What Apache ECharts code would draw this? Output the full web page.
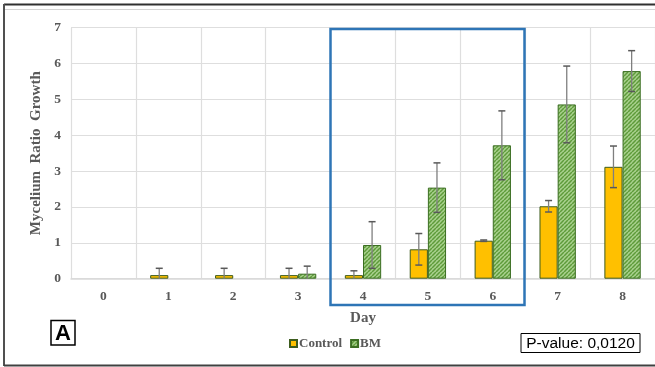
<!DOCTYPE html>
<html>
<head>
<meta charset="utf-8">
<script src="https://cdn.jsdelivr.net/npm/echarts@6/dist/echarts.min.js"></script>
<style>
  html, body { margin: 0; padding: 0; background: #ffffff; }
  #chart { width: 655px; height: 367px; }
</style>
</head>
<body>
<div id="chart"></div>
<script>
// Mycelium growth ratio per day, control vs. BM treatment (mean and error)
const days = ['0', '1', '2', '3', '4', '5', '6', '7', '8'];
const controlValues = [0, 0.1, 0.1, 0.1, 0.1, 0.82, 1.06, 2.02, 3.12];
const bmValues = [0, 0, 0, 0.14, 0.94, 2.54, 3.72, 4.86, 5.79];
const controlErr = [0, 0.19, 0.19, 0.19, 0.12, 0.44, 0.02, 0.16, 0.58];
const bmErr = [0, 0, 0, 0.21, 0.65, 0.69, 0.96, 1.07, 0.57];
const yTicks = { min: 0, max: 7, step: 1 };

const serif = '"Liberation Serif", "Times New Roman", serif';
const labelGray = '#595959';

// Diagonal "/" hatch used for the BM bars
function hatchPattern() {
  const s = 4;
  const c = document.createElement('canvas');
  c.width = s; c.height = s;
  const ctx = c.getContext('2d');
  ctx.fillStyle = '#a9d18e';
  ctx.fillRect(0, 0, s, s);
  ctx.strokeStyle = '#5e9b3a';
  ctx.lineWidth = 1.5;
  for (let k = -1; k <= 1; k++) {
    ctx.beginPath();
    ctx.moveTo(k * s, s);
    ctx.lineTo(k * s + s, 0);
    ctx.stroke();
  }
  return { image: c, repeat: 'repeat' };
}

const BAR_FRACTION = 0.28;

// A zero mean has no visible bar
const asBars = values => values.map(v => (v === 0 ? '-' : v));

// Error bar drawer: side = -1 for the left bar in a pair, +1 for the right one
function errorBars(values, errs, side) {
  const data = values.map((v, i) => [i, Math.max(0, v - errs[i]), v + errs[i], errs[i]]);
  return {
    type: 'custom',
    z: 10,
    silent: true,
    data: data,
    encode: { x: 0, y: [1, 2] },
    renderItem: function (params, api) {
      if (api.value(3) <= 0) return null;
      const band = api.size([1, 0])[0];
      const off = side * band * BAR_FRACTION / 2;
      const lo = api.coord([api.value(0), api.value(1)]);
      const hi = api.coord([api.value(0), api.value(2)]);
      const x = lo[0] + off;
      const cap = 3.5;
      const lineStyle = { stroke: '#7f7f7f', lineWidth: 1.3 };
      const capStyle = { stroke: '#595959', lineWidth: 1.5 };
      const children = [
        { type: 'line', shape: { x1: x, y1: hi[1], x2: x, y2: lo[1] }, style: lineStyle },
        { type: 'line', shape: { x1: x - cap, y1: hi[1], x2: x + cap, y2: hi[1] }, style: capStyle }
      ];
      if (api.value(1) > 0) {
        children.push({ type: 'line', shape: { x1: x - cap, y1: lo[1], x2: x + cap, y2: lo[1] }, style: capStyle });
      }
      return { type: 'group', children: children };
    }
  };
}

const chart = echarts.init(document.getElementById('chart'), null, { renderer: 'canvas' });

const option = {
  animation: false,
  backgroundColor: '#ffffff',
  grid: { left: 71, top: 27.7, width: 585, height: 251 },
  legend: {
    left: 284, top: 332,
    itemWidth: 7, itemHeight: 7, itemGap: 8,
    icon: 'rect',
    data: ['Control', 'BM'],
    textStyle: { fontFamily: serif, fontWeight: 'bold', fontSize: 13, color: labelGray, padding: [0, 0, 0, -3] }
  },
  xAxis: {
    type: 'category',
    data: days,
    name: 'Day',
    nameLocation: 'middle',
    nameGap: 32,
    nameTextStyle: { fontFamily: serif, fontWeight: 'bold', fontSize: 15, color: labelGray },
    axisLine: { lineStyle: { color: '#d9d9d9', width: 1.5 } },
    axisTick: { show: false },
    axisLabel: { fontFamily: serif, fontWeight: 'bold', fontSize: 13.5, color: labelGray, margin: 11 },
    splitLine: { show: true, interval: 0, lineStyle: { color: '#dedede', width: 1.2 } }
  },
  yAxis: {
    type: 'value',
    min: yTicks.min, max: yTicks.max, interval: yTicks.step,
    name: 'Mycelium  Ratio  Growth',
    nameLocation: 'middle',
    nameGap: 25,
    nameTextStyle: { fontFamily: serif, fontWeight: 'bold', fontSize: 15, color: labelGray },
    axisLine: { show: false },
    axisTick: { show: false },
    axisLabel: { fontFamily: serif, fontWeight: 'bold', fontSize: 13.5, color: labelGray, margin: 10 },
    splitLine: { lineStyle: { color: '#dedede', width: 1.2 } }
  },
  series: [
    {
      name: 'Control',
      type: 'bar',
      data: asBars(controlValues),
      barWidth: (BAR_FRACTION * 100) + '%',
      barGap: '0%',
      itemStyle: { color: '#ffc000', borderColor: '#3d5c1e', borderWidth: 1 }
    },
    {
      name: 'BM',
      type: 'bar',
      data: asBars(bmValues),
      barWidth: (BAR_FRACTION * 100) + '%',
      barGap: '0%',
      itemStyle: { color: hatchPattern(), borderColor: '#3b6e22', borderWidth: 1 }
    },
    errorBars(controlValues, controlErr, -1),
    errorBars(bmValues, bmErr, 1)
  ],
  graphic: [
    // outer frame
    { type: 'line', shape: { x1: 4, y1: 4.5, x2: 655, y2: 4.5 }, style: { stroke: '#303030', lineWidth: 2 } },
    { type: 'line', shape: { x1: 5, y1: 9.5, x2: 655, y2: 9.5 }, style: { stroke: '#d4d4d4', lineWidth: 1 } },
    { type: 'line', shape: { x1: 4, y1: 4, x2: 4, y2: 366 }, style: { stroke: '#505050', lineWidth: 2 } },
    { type: 'line', shape: { x1: 4, y1: 365.5, x2: 655, y2: 365.5 }, style: { stroke: '#404040', lineWidth: 2 } },
    // highlight box around days 4-6
    { type: 'rect', z: 20, shape: { x: 330.5, y: 29, width: 194, height: 276 }, style: { fill: 'none', stroke: '#2e75b6', lineWidth: 2.5 } },
    // panel label
    { type: 'rect', shape: { x: 51, y: 320.5, width: 24, height: 24.5 }, style: { fill: '#ffffff', stroke: '#000000', lineWidth: 1.5 } },
    { type: 'text', style: { x: 63, y: 333.5, text: 'A', fontFamily: '"Liberation Sans", Arial, sans-serif', fontWeight: 'bold', fontSize: 22, fill: '#000000', align: 'center', verticalAlign: 'middle' } },
    // p-value box
    { type: 'rect', shape: { x: 521, y: 333.5, width: 119, height: 19 }, style: { fill: '#ffffff', stroke: '#000000', lineWidth: 1 } },
    { type: 'text', style: { x: 580.5, y: 343.5, text: 'P-value: 0,0120', fontFamily: '"Liberation Sans", Arial, sans-serif', fontSize: 15.5, fill: '#000000', align: 'center', verticalAlign: 'middle' } }
  ]
};

chart.setOption(option);
</script>
</body>
</html>
